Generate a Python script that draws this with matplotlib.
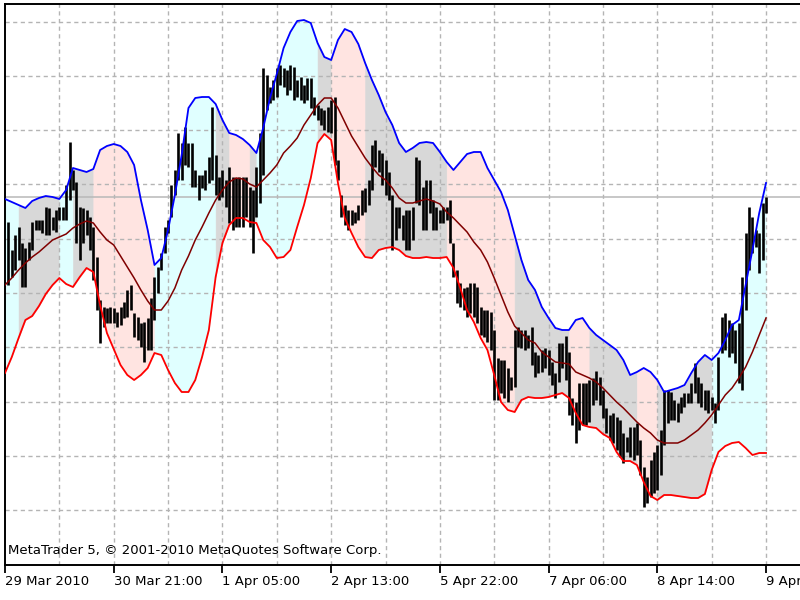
import numpy as np
import matplotlib
matplotlib.use("Agg")
import matplotlib.pyplot as plt

# H1 bars, price in points
bar_high = [378, 350, 365, 373, 357, 352, 358, 378, 380, 380,
            380, 393, 392, 383, 390, 393, 393, 415, 458, 430,
            418, 393, 392, 390, 383, 373, 343, 300, 293, 292,
            293, 292, 288, 293, 298, 310, 315, 287, 283, 277,
            278, 282, 302, 323, 333, 347, 373, 380, 415, 430,
            467, 457, 473, 457, 457, 430, 425, 425, 430, 443,
            493, 445, 423, 430, 420, 433, 423, 422, 423, 423,
            423, 413, 410, 433, 467, 532, 525, 513, 520, 532,
            535, 532, 530, 535, 533, 520, 523, 515, 522, 522,
            503, 495, 492, 490, 493, 500, 503, 440, 405, 395,
            390, 390, 388, 395, 410, 412, 420, 455, 460, 450,
            447, 440, 428, 405, 393, 393, 385, 390, 390, 393,
            443, 440, 413, 420, 420, 400, 393, 390, 393, 393,
            400, 357, 330, 317, 312, 313, 317, 317, 313, 293,
            290, 290, 288, 270, 242, 240, 240, 232, 223, 270,
            273, 270, 270, 265, 273, 248, 245, 250, 252, 250,
            238, 227, 257, 257, 264, 248, 202, 198, 217, 217,
            217, 220, 222, 229, 223, 210, 192, 185, 187, 183,
            180, 167, 163, 173, 173, 177, 160, 133, 123, 140,
            148, 155, 170, 210, 210, 208, 200, 197, 203, 207,
            207, 217, 237, 223, 217, 210, 210, 203, 197, 243,
            283, 287, 280, 277, 270, 277, 323, 367, 393, 383,
            370, 367, 397, 403]
bar_low = [315, 323, 330, 340, 313, 313, 340, 350, 370, 370,
           367, 365, 365, 370, 368, 380, 380, 380, 400, 410,
           357, 340, 357, 365, 350, 320, 290, 257, 273, 277,
           277, 277, 273, 275, 282, 283, 290, 263, 260, 253,
           238, 250, 250, 280, 307, 330, 347, 367, 383, 405,
           420, 420, 435, 433, 413, 413, 400, 412, 410, 417,
           420, 405, 400, 403, 393, 377, 370, 373, 373, 373,
           383, 373, 347, 383, 397, 425, 490, 497, 500, 503,
           515, 513, 505, 510, 500, 503, 500, 497, 500, 492,
           485, 480, 475, 470, 468, 467, 435, 420, 383, 375,
           370, 375, 377, 380, 385, 388, 395, 410, 433, 428,
           415, 405, 400, 350, 360, 372, 360, 350, 350, 360,
           397, 395, 370, 370, 387, 370, 370, 377, 377, 380,
           357, 323, 297, 293, 290, 283, 287, 283, 277, 265,
           263, 258, 250, 200, 200, 207, 202, 198, 210, 213,
           253, 252, 250, 252, 235, 223, 227, 228, 232, 225,
           215, 202, 218, 232, 220, 185, 175, 157, 170, 175,
           175, 178, 195, 200, 195, 182, 167, 160, 157, 150,
           143, 137, 148, 143, 140, 145, 125, 93, 97, 103,
           107, 110, 125, 155, 177, 180, 180, 178, 187, 193,
           197, 197, 207, 197, 193, 190, 187, 190, 177, 190,
           247, 250, 243, 247, 237, 217, 210, 290, 330, 347,
           353, 327, 340, 387]

# band values every second bar
band_upper = [401, 398, 395, 392, 399, 402, 404, 403, 401, 410, 432, 430, 428,
              431, 450, 454, 456, 454, 448, 435, 400, 370, 335, 342, 370, 405,
              445, 492, 502, 503, 503, 496, 480, 467, 465, 461, 455, 447, 472,
              502, 526, 552, 568, 579, 580, 577, 557, 543, 540, 560, 571, 568,
              556, 537, 520, 505, 488, 475, 457, 448, 452, 457, 458, 457, 448,
              438, 430, 438, 446, 448, 448, 432, 420, 408, 390, 365, 340, 320,
              310, 293, 282, 272, 270, 270, 280, 282, 272, 265, 260, 255, 250,
              240, 225, 228, 232, 228, 220, 208, 210, 212, 215, 227, 238, 245,
              240, 247, 260, 275, 280, 315, 350, 387, 417]
band_middle = [315, 322, 330, 337, 343, 348, 354, 360, 363, 366, 372, 376, 379,
               377, 368, 360, 355, 344, 333, 322, 310, 299, 290, 290, 299, 312,
               330, 344, 360, 373, 387, 400, 410, 418, 422, 421, 416, 413, 420,
               427, 435, 447, 454, 462, 475, 485, 495, 502, 502, 492, 478, 464,
               453, 442, 433, 425, 420, 412, 402, 397, 397, 399, 401, 399, 396,
               388, 382, 375, 368, 358, 350, 338, 322, 305, 288, 274, 267, 260,
               257, 248, 243, 238, 237, 236, 228, 225, 222, 218, 212, 205, 198,
               192, 185, 178, 172, 167, 160, 157, 157, 157, 160, 165, 170, 177,
               185, 195, 205, 212, 222, 233, 248, 265, 282]
band_lower = [227, 243, 262, 280, 284, 294, 306, 315, 322, 316, 313, 323, 332,
              328, 295, 267, 251, 235, 225, 220, 225, 232, 247, 245, 230, 217,
              208, 208, 220, 243, 270, 323, 357, 375, 382, 382, 378, 377, 360,
              353, 342, 343, 350, 373, 395, 422, 457, 466, 460, 417, 382, 367,
              353, 343, 342, 350, 352, 353, 350, 344, 342, 342, 343, 342, 342,
              343, 332, 312, 290, 278, 262, 250, 225, 198, 190, 188, 200, 203,
              202, 202, 203, 205, 207, 202, 187, 175, 173, 172, 166, 162, 148,
              139, 139, 135, 118, 104, 100, 105, 105, 104, 103, 102, 102, 106,
              130, 148, 154, 157, 158, 152, 145, 147, 147]

# trend state of the channel, bar index where each state starts
seg_edges = [0, 4, 16, 20, 26, 44, 62, 66, 72, 74, 92, 96, 106, 130, 150, 166, 172, 186, 192, 208, 224]
seg_state = ['up', 'flat', 'up', 'flat', 'down', 'up', 'flat', 'down', 'flat', 'up',
             'flat', 'down', 'flat', 'down', 'flat', 'down', 'flat', 'down', 'flat', 'up']

tick_labels = ['29 Mar 2010', '30 Mar 21:00', '1 Apr 05:00', '2 Apr 13:00',
               '5 Apr 22:00', '7 Apr 06:00', '8 Apr 14:00', '9 Apr 22:00']
last_price = 403

fill_col = {'up': '#e0ffff', 'down': '#ffe4e1', 'flat': '#d8d8d8'}

bar_x = np.arange(1, len(bar_high) + 1)
node_x = np.arange(0, 2 * len(band_upper), 2)
up = np.array(band_upper)
lo = np.array(band_lower)

fig = plt.figure(figsize=(8, 6), dpi=100)
ax = fig.add_axes([5 / 800, 35 / 600, 795 / 800, 561 / 600])
ax.set_xlim(0, 234)
ax.set_ylim(35, 596)

# channel fill
for s, e, st in zip(seg_edges[:-1], seg_edges[1:], seg_state):
    m = (node_x >= s) & (node_x <= e)
    ax.fill_between(node_x[m], up[m], lo[m], color=fill_col[st], lw=0.4, zorder=1)

# grid
for gx in range(16, 234, 16):
    ax.axvline(gx, color='#b4b4b4', lw=1, ls=(0, (3, 2.5)), zorder=1.5)
for gy in np.arange(35.5 + 54.3, 596, 54.3):
    ax.axhline(gy, color='#b4b4b4', lw=1, ls=(0, (3, 2.5)), zorder=1.5)
ax.axhline(last_price, color='#b8b8b8', lw=1.1, zorder=1.6)

ax.vlines(bar_x, bar_low, bar_high, color='black', lw=1.9, zorder=2)

ax.plot(node_x, band_upper, color='#0000ff', lw=1.3, zorder=3)
ax.plot(node_x, band_middle, color='#800000', lw=1.1, zorder=3)
ax.plot(node_x, band_lower, color='#ff0000', lw=1.3, zorder=3)

ax.text(0.004, 0.026, 'MetaTrader 5, \u00a9 2001-2010 MetaQuotes Software Corp.',
        transform=ax.transAxes, fontsize=9.5, va='center', ha='left', zorder=4)

ax.set_xticks(np.arange(0, 225, 32))
ax.set_xticklabels(tick_labels, ha='left', fontsize=9.5)
ax.tick_params(axis='x', direction='out', length=5.5, width=1.3, pad=2)
ax.set_yticks([])
for side in ['left', 'top', 'bottom']:
    ax.spines[side].set_linewidth(1.4)
ax.spines['right'].set_visible(False)

fig.savefig('out.png', dpi=100)
